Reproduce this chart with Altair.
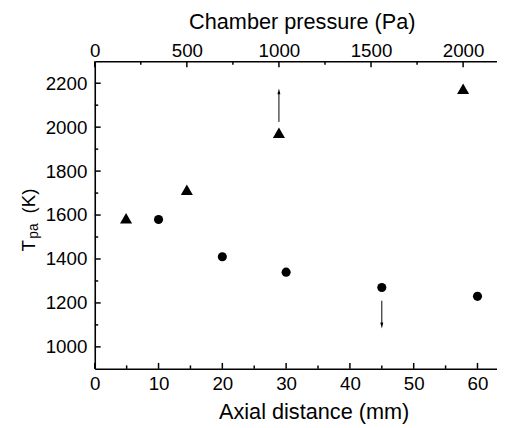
import altair as alt
import pandas as pd

FONT = "Liberation Sans"

# ---- data ----
dist_mm = [10, 20, 30, 45, 60]
temp_dist = [1580, 1410, 1340, 1270, 1230]

press_pa = [170, 500, 1000, 2000]
temp_press = [1585, 1715, 1975, 2175]

# limit arrows
down_mm = [45]
down_from = [1210]
down_to = [1100]
down_head = [1097]

up_pa = [1000]
up_from = [2024]
up_to = [2160]
up_head = [2163]

# ticks
mm_major = [0, 10, 20, 30, 40, 50, 60]
mm_minor = [5, 15, 25, 35, 45, 55]
pa_major = [0, 500, 1000, 1500, 2000]
pa_minor = [250, 750, 1250, 1750]
t_major = [1000, 1200, 1400, 1600, 1800, 2000, 2200]
t_minor = [1100, 1300, 1500, 1700, 1900, 2100]

W, H = 408, 312
MM_DOM = [0, 63.06]
PA_DOM = [0, 2184]
T_DOM = [900, 2300]

common_axis = dict(tickSize=0, labelFontSize=19, labelFont=FONT, labelColor="black",
                   domainColor="black", domainWidth=1.6, grid=False, format="d", zindex=1,
                   titleFont=FONT, titleFontSize=22, titleFontWeight="normal",
                   titleColor="black", labelFlush=False, labelOverlap=False)
axis_mm = alt.Axis(orient="bottom", values=mm_major, labelPadding=6,
                   title="Axial distance (mm)", titleX=222, titleY=50,
                   titleAlign="center", titleBaseline="alphabetic", **common_axis)
axis_pa = alt.Axis(orient="top", values=pa_major, labelPadding=1,
                   title="Chamber pressure (Pa)", titleX=210, titleY=-33,
                   titleAlign="center", titleBaseline="alphabetic", **common_axis)
axis_t = alt.Axis(orient="left", values=t_major, labelPadding=8, title="", **common_axis)

sc_mm = alt.Scale(domain=MM_DOM, nice=False, zero=False)
sc_pa = alt.Scale(domain=PA_DOM, nice=False, zero=False)
sc_t = alt.Scale(domain=T_DOM, nice=False, zero=False)
x_mm = alt.X("mm:Q", scale=sc_mm, axis=axis_mm)
x_pa = alt.X("Pa:Q", scale=sc_pa, axis=axis_pa)
y_t = alt.Y("T:Q", scale=sc_t, axis=axis_t)

TK = dict(color="black", strokeWidth=1.5)

# ---------- mm (bottom) layer ----------
circles = alt.Chart(pd.DataFrame({"mm": dist_mm, "T": temp_dist})).mark_point(
    shape="circle", filled=True, size=85, color="black", opacity=1).encode(x=x_mm, y=y_t)
dn = pd.DataFrame({"mm": down_mm, "T": down_from, "T2": down_to, "Th": down_head})
dn_shaft = alt.Chart(dn).mark_rule(color="black", strokeWidth=1).encode(x=x_mm, y=y_t, y2="T2:Q")
dn_head = alt.Chart(dn).mark_point(shape="M-0.5,-1L0.5,-1L0,1Z", filled=True, size=36,
                                   color="black", opacity=1).encode(x=x_mm, y=alt.Y("Th:Q", scale=sc_t, axis=axis_t))

lab = pd.DataFrame({"a": [0]})
t_T = alt.Chart(lab).mark_text(text="T", font=FONT, fontSize=19, angle=270, align="left",
                               baseline="alphabetic", color="black").encode(x=alt.value(-61), y=alt.value(193))
t_pa = alt.Chart(lab).mark_text(text="pa", font=FONT, fontSize=14, angle=270, align="left",
                                baseline="alphabetic", color="black").encode(x=alt.value(-57.5), y=alt.value(180))
t_K = alt.Chart(lab).mark_text(text="(K)", font=FONT, fontSize=19, angle=270, align="right",
                               baseline="alphabetic", color="black").encode(x=alt.value(-61), y=alt.value(129))

mm_maj = alt.Chart(pd.DataFrame({"mm": mm_major})).mark_rule(**TK).encode(
    x=x_mm, y=alt.value(H), y2=alt.value(H - 6))
mm_min = alt.Chart(pd.DataFrame({"mm": mm_minor})).mark_rule(**TK).encode(
    x=x_mm, y=alt.value(H), y2=alt.value(H - 3.5))
t_maj = alt.Chart(pd.DataFrame({"T": t_major})).mark_rule(**TK).encode(
    y=y_t, x=alt.value(0), x2=alt.value(6))
t_min = alt.Chart(pd.DataFrame({"T": t_minor})).mark_rule(**TK).encode(
    y=y_t, x=alt.value(0), x2=alt.value(3.5))

mm_layer = alt.layer(dn_shaft, dn_head, circles, t_T, t_pa, t_K, mm_maj, mm_min, t_maj, t_min)

# ---------- Pa (top) layer ----------
triangles = alt.Chart(pd.DataFrame({"Pa": press_pa, "T": temp_press})).mark_point(
    shape="triangle-up", filled=True, size=150, color="black", opacity=1).encode(x=x_pa, y=y_t)
up = pd.DataFrame({"Pa": up_pa, "T": up_from, "T2": up_to, "Th": up_head})
up_shaft = alt.Chart(up).mark_rule(color="black", strokeWidth=1).encode(x=x_pa, y=y_t, y2="T2:Q")
up_headm = alt.Chart(up).mark_point(shape="M-0.5,1L0.5,1L0,-1Z", filled=True, size=36,
                                    color="black", opacity=1).encode(x=x_pa, y=alt.Y("Th:Q", scale=sc_t, axis=axis_t))
pa_maj = alt.Chart(pd.DataFrame({"Pa": pa_major})).mark_rule(**TK).encode(
    x=x_pa, y=alt.value(0), y2=alt.value(6))
pa_min = alt.Chart(pd.DataFrame({"Pa": pa_minor})).mark_rule(**TK).encode(
    x=x_pa, y=alt.value(0), y2=alt.value(3.5))

pa_layer = alt.layer(up_shaft, up_headm, triangles, pa_maj, pa_min)

chart = alt.layer(mm_layer, pa_layer).resolve_scale(x="independent").properties(
    width=W, height=H,
    padding={"left": 88, "top": 51, "right": 0, "bottom": 57},
    autosize=alt.AutoSizeParams(type="none"),
).configure_view(stroke="transparent")

chart.save("out.html", embed_options={"renderer": "svg", "actions": False})
